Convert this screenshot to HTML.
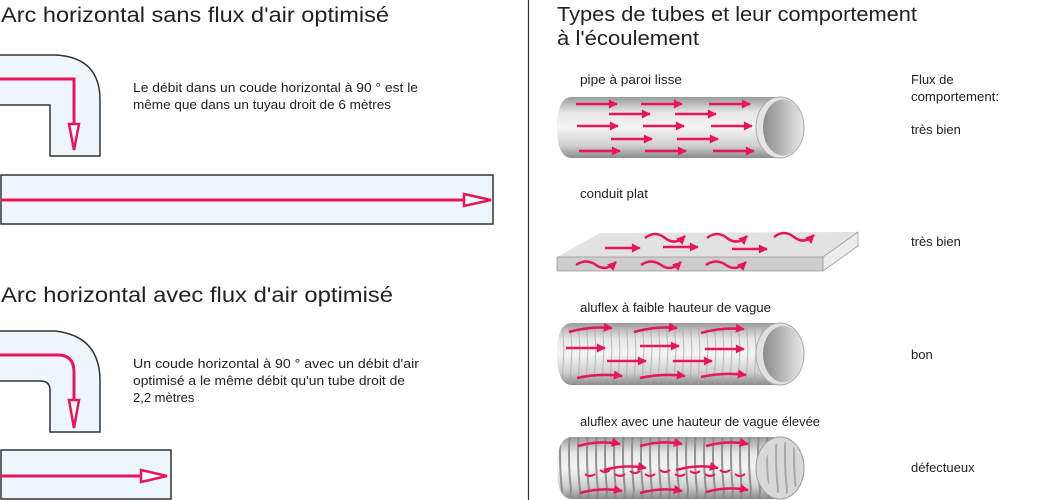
<!DOCTYPE html>
<html><head><meta charset="utf-8"><style>
html,body{margin:0;padding:0;background:#fff;}
svg{display:block;font-family:"Liberation Sans",sans-serif;}
</style></head><body>
<svg width="1049" height="500" viewBox="0 0 1049 500" xmlns="http://www.w3.org/2000/svg">
<defs>
<linearGradient id="cyl" x1="0" y1="0" x2="0" y2="1">
<stop offset="0" stop-color="#9a9a9a"/><stop offset="0.25" stop-color="#e6e6e6"/><stop offset="0.5" stop-color="#f4f4f4"/><stop offset="0.8" stop-color="#cfcfcf"/><stop offset="1" stop-color="#8a8a8a"/>
</linearGradient>
<linearGradient id="end" x1="0" y1="0" x2="1" y2="0">
<stop offset="0" stop-color="#8a8a8a"/><stop offset="1" stop-color="#e8e8e8"/>
</linearGradient>
<marker id="ah" viewBox="0 0 10 10" refX="9" refY="5" markerWidth="4.5" markerHeight="3.6" orient="auto"><path d="M0,0 L10,5 L0,10 z" fill="#e8145c"/></marker>
<pattern id="rib" width="8" height="70" patternUnits="userSpaceOnUse"><path d="M4,0 Q1,35 4,70" stroke="#a8a8a8" stroke-width="1" fill="none"/></pattern>
<pattern id="rib2" width="9" height="70" patternUnits="userSpaceOnUse"><path d="M4,0 Q0,35 4,70" stroke="#888" stroke-width="2" fill="none"/></pattern>
</defs>
<rect width="1049" height="500" fill="#fff"/>
<line x1="528.5" y1="0" x2="528.5" y2="500" stroke="#333" stroke-width="1.2"/>

<!-- LEFT -->
<text x="1" y="22" font-size="21" fill="#222" textLength="388" lengthAdjust="spacingAndGlyphs">Arc horizontal sans flux d'air optimisé</text>
<path d="M0,55 H55 Q100,57 100,100 V156 H50 V105 H0" fill="#eef6fc" stroke="#333" stroke-width="1.5"/>
<path d="M0,79 H74 V150" fill="none" stroke="#e8145c" stroke-width="3"/>
<path d="M69,124 L79,124 L74,150 z" fill="#fff" stroke="#e8145c" stroke-width="2.5"/>
<text x="133" y="92" font-size="13" fill="#222" textLength="285" lengthAdjust="spacingAndGlyphs">Le débit dans un coude horizontal à 90 ° est le</text>
<text x="133" y="109" font-size="13" fill="#222" textLength="258" lengthAdjust="spacingAndGlyphs">même que dans un tuyau droit de 6 mètres</text>
<rect x="1" y="175" width="492" height="49" fill="#eef6fc" stroke="#333" stroke-width="1.5"/>
<line x1="1" y1="200" x2="465" y2="200" stroke="#e8145c" stroke-width="3"/>
<path d="M464,194 L491,200 L464,206 z" fill="#fff" stroke="#e8145c" stroke-width="2.5"/>

<text x="1" y="302" font-size="21" fill="#222" textLength="392" lengthAdjust="spacingAndGlyphs">Arc horizontal avec flux d'air optimisé</text>
<path d="M0,331 H55 Q100,336 100,381 V432 H50 V390 Q50,381 40,381 H0" fill="#eef6fc" stroke="#333" stroke-width="1.5"/>
<path d="M0,355 H58 Q74,355 74,372 V428" fill="none" stroke="#e8145c" stroke-width="3"/>
<path d="M69,400 L79,400 L74,428 z" fill="#fff" stroke="#e8145c" stroke-width="2.5"/>
<text x="133" y="368" font-size="13" fill="#222" textLength="286" lengthAdjust="spacingAndGlyphs">Un coude horizontal à 90 ° avec un débit d'air</text>
<text x="133" y="385" font-size="13" fill="#222" textLength="272" lengthAdjust="spacingAndGlyphs">optimisé a le même débit qu'un tube droit de</text>
<text x="133" y="402" font-size="13" fill="#222">2,2 mètres</text>
<rect x="1" y="450" width="170" height="49" fill="#eef6fc" stroke="#333" stroke-width="1.5"/>
<line x1="1" y1="476" x2="142" y2="476" stroke="#e8145c" stroke-width="3"/>
<path d="M141,470 L167,476 L141,482 z" fill="#fff" stroke="#e8145c" stroke-width="2.5"/>

<!-- RIGHT -->
<text x="557" y="21" font-size="20" fill="#222" textLength="360" lengthAdjust="spacingAndGlyphs">Types de tubes et leur comportement</text>
<text x="557" y="45" font-size="20" fill="#222" textLength="142" lengthAdjust="spacingAndGlyphs">à l'écoulement</text>
<g font-size="13" fill="#222">
<text x="580" y="84" textLength="102" lengthAdjust="spacingAndGlyphs">pipe à paroi lisse</text>
<text x="580" y="198" textLength="68" lengthAdjust="spacingAndGlyphs">conduit plat</text>
<text x="580" y="312" textLength="191" lengthAdjust="spacingAndGlyphs">aluflex à faible hauteur de vague</text>
<text x="580" y="426" textLength="240" lengthAdjust="spacingAndGlyphs">aluflex avec une hauteur de vague élevée</text>
<text x="911" y="84">Flux de</text>
<text x="911" y="101" textLength="88" lengthAdjust="spacingAndGlyphs">comportement:</text>
<text x="911" y="134">très bien</text>
<text x="911" y="246">très bien</text>
<text x="911" y="359">bon</text>
<text x="911" y="472">défectueux</text>
</g>

<!-- pipe 1 -->
<path d="M572,97 H780 V158 H572 Q557,158 557,127 Q557,97 572,97 z" fill="url(#cyl)"/>
<ellipse cx="780" cy="127.5" rx="24" ry="30.5" fill="#e4e4e4" stroke="#aaa"/>
<ellipse cx="783" cy="127.5" rx="20" ry="28" fill="url(#end)"/>
<g stroke="#e8145c" stroke-width="2.5" marker-end="url(#ah)" fill="none">
<path d="M576,104 H617"/><path d="M641,104 H682"/><path d="M709,104 H750"/>
<path d="M609,114 H650"/><path d="M675,114 H716"/>
<path d="M577,126 H618"/><path d="M643,126 H684"/><path d="M711,126 H752"/>
<path d="M611,139 H652"/><path d="M677,139 H718"/>
<path d="M579,151 H620"/><path d="M645,151 H686"/><path d="M713,151 H754"/>
</g>

<!-- flat duct -->
<path d="M557,257 L600,233 L858,232 L823,257 z" fill="#e2e2e2"/>
<path d="M557,257 H823 V271 H557 z" fill="#cdcdcd" stroke="#999" stroke-width="0.8"/>
<path d="M823,257 L858,232 V246 L823,271 z" fill="#ececec" stroke="#999" stroke-width="0.8"/>
<g stroke="#e8145c" stroke-width="2.5" marker-end="url(#ah)" fill="none">
<path d="M645,238 Q655,230 665,238 T685,236"/><path d="M707,238 Q717,230 727,238 T747,236"/><path d="M774,237 Q784,229 794,237 T814,235"/>
<path d="M605,248 H640"/><path d="M663,247 H698"/><path d="M732,249 H767"/>
<path d="M576,265 Q586,258 596,265 T616,262"/><path d="M641,265 Q651,258 661,265 T681,262"/><path d="M706,265 Q716,258 726,265 T746,262"/>
</g>

<!-- pipe 3 -->
<path d="M572,323 H780 V385 H572 Q557,385 557,354 Q557,323 572,323 z" fill="url(#cyl)"/>
<path d="M572,323 H780 V385 H572 Q557,385 557,354 Q557,323 572,323 z" fill="url(#rib)" opacity="0.8"/>
<ellipse cx="780" cy="354" rx="24" ry="31" fill="#e0e0e0" stroke="#aaa"/>
<ellipse cx="783" cy="354" rx="20" ry="28" fill="url(#end)"/>
<g stroke="#e8145c" stroke-width="2.5" marker-end="url(#ah)" fill="none">
<path d="M569,332 Q590,326 612,328"/><path d="M634,332 Q655,326 677,328"/><path d="M701,333 Q722,327 744,329"/>
<path d="M566,348 H605"/><path d="M640,346 H679"/><path d="M705,349 H744"/>
<path d="M607,361 H646"/><path d="M673,361 H712"/>
<path d="M577,378 Q600,373 622,376"/><path d="M640,378 Q663,373 685,376"/><path d="M701,377 Q724,372 746,375"/>
</g>

<!-- pipe 4 -->
<path d="M572,437 H780 V499 H572 Q557,499 557,468 Q557,437 572,437 z" fill="url(#cyl)"/>
<path d="M572,437 H780 V499 H572 Q557,499 557,468 Q557,437 572,437 z" fill="url(#rib2)" opacity="0.9"/>
<ellipse cx="780" cy="468" rx="24" ry="31" fill="#d8d8d8" stroke="#999"/>
<ellipse cx="783" cy="468" rx="18" ry="26" fill="url(#rib2)" opacity="0.6"/>
<g stroke="#e8145c" stroke-width="2.5" marker-end="url(#ah)" fill="none">
<path d="M578,446 Q600,440 620,444"/><path d="M640,446 Q662,440 682,444"/><path d="M706,446 Q728,440 748,444"/>
<path d="M604,470 Q626,464 646,468"/><path d="M676,470 Q698,464 718,468"/>
<path d="M580,493 Q602,487 622,491"/><path d="M640,493 Q662,487 682,491"/><path d="M706,492 Q728,486 748,490"/>
</g>
<g stroke="#e8145c" stroke-width="2" fill="none">
<path d="M585,474 q5,4 10,0 M600,470 q5,4 10,0 M615,474 q5,4 10,0 M630,471 q5,4 10,0 M645,474 q5,4 10,0 M660,470 q5,4 10,0 M675,474 q5,4 10,0 M690,471 q5,4 10,0 M705,474 q5,4 10,0 M720,470 q5,4 10,0 M735,474 q5,4 10,0"/>
</g>
</svg>
</body></html>
